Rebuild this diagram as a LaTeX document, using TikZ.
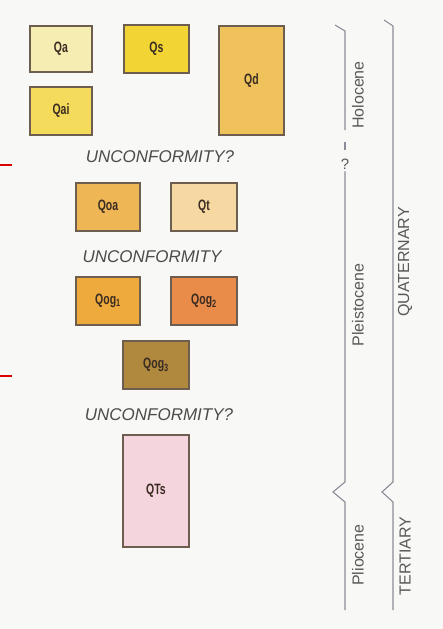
\documentclass[tikz,border=0pt]{standalone}
\usepackage{fontspec}
\setmainfont{Liberation Sans}
\newfontfamily\unitfont{Liberation Sans}[FakeStretch=0.7]
\definecolor{paper}{HTML}{F8F9F6}
\definecolor{edge}{HTML}{6E5E50}
\definecolor{rule}{HTML}{8C8C98}
\definecolor{ink}{HTML}{3A2C22}
\definecolor{cQa}{HTML}{F5EDB2}
\definecolor{cQs}{HTML}{F2D535}
\definecolor{cQd}{HTML}{F0C25C}
\definecolor{cQai}{HTML}{F4DB5C}
\definecolor{cQoa}{HTML}{EFB656}
\definecolor{cQt}{HTML}{F6D8A2}
\definecolor{cQogA}{HTML}{EEAA3C}
\definecolor{cQogB}{HTML}{E98C4A}
\definecolor{cQogC}{HTML}{B0893F}
\definecolor{cQTs}{HTML}{F4D5DD}
\begin{document}
\begin{tikzpicture}[x=1pt,y=-1pt,
  unit/.style={draw=edge,line width=1.1pt,inner sep=0pt,text=ink,
    font=\unitfont\bfseries\fontsize{15}{15}\selectfont},
  gap/.style={text=black!70,font=\itshape\fontsize{17}{17}\selectfont},
  epoch/.style={rotate=90,text=black!65,font=\fontsize{16}{16}\selectfont},
  bracket/.style={draw=rule,line width=1.1pt},
  marker/.style={draw=red!85!black,line width=1.1pt}]
\def\unitbox#1#2#3#4#5#6#7{
\node [unit,fill=#6,minimum width=#4pt,minimum height=#5pt] (#1) at (#2,#3) {#7};
}
\fill [paper] (0,0) rectangle (443,629);
\useasboundingbox (0,0) rectangle (443,629);
% map units
\unitbox{qa}{61}{49}{62}{46}{cQa}{Qa}
\unitbox{qs}{156.5}{49}{65}{48}{cQs}{Qs}
\unitbox{qd}{251.5}{80.5}{65}{109}{cQd}{Qd}
\unitbox{qai}{61}{111}{62}{48}{cQai}{Qai}
\unitbox{qoa}{108}{207}{64}{48}{cQoa}{Qoa}
\unitbox{qt}{204}{207}{66}{48}{cQt}{Qt}
\unitbox{qog1}{108}{301}{64}{48}{cQogA}{Qog\textsubscript{1}}
\unitbox{qog2}{204}{301}{66}{48}{cQogB}{Qog\textsubscript{2}}
\unitbox{qog3}{156}{365}{66}{48}{cQogC}{Qog\textsubscript{3}}
\unitbox{qts}{156}{491}{66}{112}{cQTs}{QTs}
% contacts
\node [gap] (u1) at (160,157) {UNCONFORMITY?};
\node [gap] (u2) at (152,257) {UNCONFORMITY};
\node [gap] (u3) at (159,415) {UNCONFORMITY?};
\draw [marker] (0,165) -- (12,165);
\draw [marker] (0,376) -- (12,376);
% time scale
\node [epoch] (holo) at (358,95) {Holocene};
\node [epoch] (pleis) at (358,305) {Pleistocene};
\node [epoch] (plio) at (358,555) {Pliocene};
\node [epoch] (quat) at (405,262) {QUATERNARY};
\node [epoch] (tert) at (405,556) {TERTIARY};
\node [text=black!65,font=\fontsize{15}{15}\selectfont,inner sep=0pt] (q) at (345,164) {?};
\draw [bracket] (335,25) -- (345,31) -- (345,130);
\draw [bracket] (345,142) -- (345,150);
\draw [bracket] (q.south) ++(0,2) -- (345,482) -- (333,492) -- (345,502) -- (345,610);
\draw [bracket] (384,20) -- (393,26) -- (393,482) -- (382,492) -- (393,502) -- (393,610);
\end{tikzpicture}
\end{document}
